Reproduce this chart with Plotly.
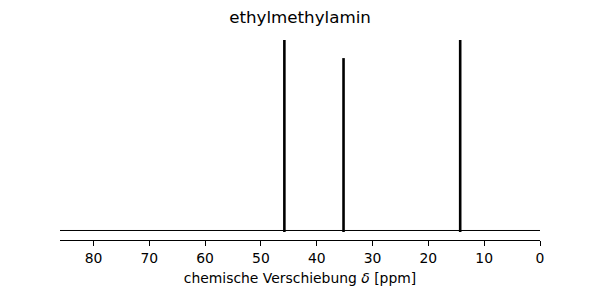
import plotly.graph_objects as go

shifts = [45.8, 35.2, 14.3]
intensities = [1.0, 0.905, 1.0]
x_range = [86, 0]
tick_vals = [80, 70, 60, 50, 40, 30, 20, 10, 0]
title_text = "ethylmethylamin"
x_label = "chemische Verschiebung <i>δ</i> [ppm]"

fig = go.Figure()
# baseline
fig.add_trace(go.Scatter(x=x_range, y=[0, 0], mode="lines",
                         line=dict(color="black", width=1.0), hoverinfo="skip"))
for s, h in zip(shifts, intensities):
    fig.add_trace(go.Scatter(x=[s, s], y=[-0.008, h], mode="lines",
                             line=dict(color="black", width=2.6), hoverinfo="skip"))

fig.update_layout(
    width=600, height=300,
    margin=dict(l=60, r=60, t=40, b=60),
    plot_bgcolor="white", paper_bgcolor="white",
    showlegend=False,
    font=dict(family="DejaVu Sans", color="black", size=14),
    title=dict(text=title_text, x=0.5, xanchor="center", y=1 - 17 / 300, yanchor="middle",
               font=dict(size=16.7, family="DejaVu Sans", color="black")),
    xaxis=dict(range=x_range, tickvals=tick_vals, ticks="outside", ticklen=5, tickwidth=1,
               tickcolor="black", showline=True, linecolor="black", linewidth=1,
               showgrid=False, zeroline=False,
               title=dict(text=x_label, font=dict(size=13.9), standoff=8),
               tickfont=dict(size=13.9)),
    yaxis=dict(range=[-0.0499, 1.0], visible=False, showgrid=False, zeroline=False),
)

fig.write_html("out.html")
